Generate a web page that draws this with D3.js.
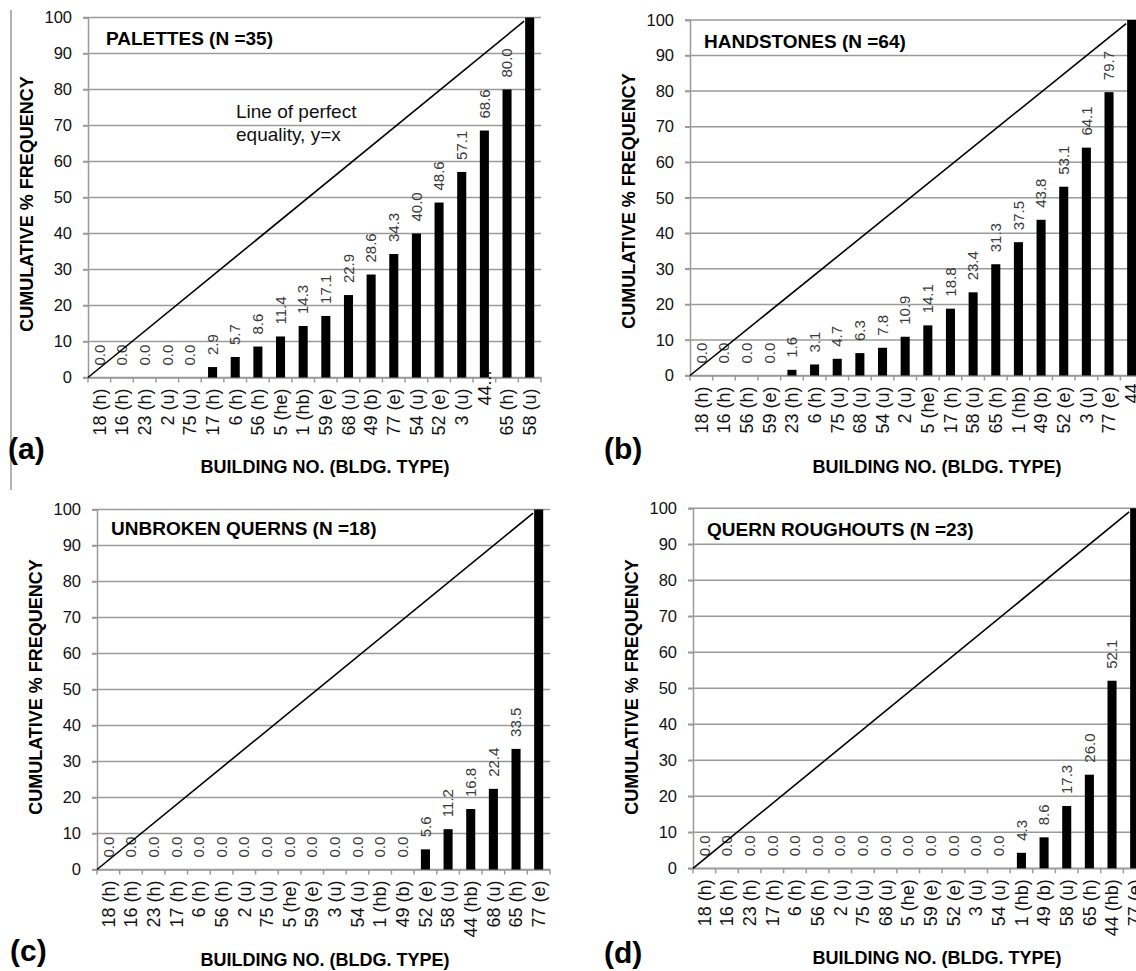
<!DOCTYPE html>
<html>
<head>
<meta charset="utf-8">
<script src="https://cdn.jsdelivr.net/npm/d3@7"></script>
<style>
  body { margin: 0; background: #fff; }
  svg { display: block; font-family: "Liberation Sans", Arial, sans-serif; }
</style>
</head>
<body>
<svg id="chart" width="1136" height="971"></svg>
<script>
// building order + cumulative % frequency, one pair per panel
const catsA = ["18 (h)", "16 (h)", "23 (h)", "2 (u)", "75 (u)", "17 (h)", "6 (h)", "56 (h)", "5 (he)", "1 (hb)",
    "59 (e)", "68 (u)", "49 (b)", "77 (e)", "54 (u)", "52 (e)", "3 (u)", "44...", "65 (h)", "58 (u)"];
const valsA = [0, 0, 0, 0, 0, 2.9, 5.7, 8.6, 11.4, 14.3, 17.1, 22.9, 28.6, 34.3, 40.0, 48.6, 57.1, 68.6, 80.0, 100];

const catsB = ["18 (h)", "16 (h)", "56 (h)", "59 (e)", "23 (h)", "6 (h)", "75 (u)", "68 (u)", "54 (u)", "2 (u)",
    "5 (he)", "17 (h)", "58 (u)", "65 (h)", "1 (hb)", "49 (b)", "52 (e)", "3 (u)", "77 (e)", "44..."];
const valsB = [0, 0, 0, 0, 1.6, 3.1, 4.7, 6.3, 7.8, 10.9, 14.1, 18.8, 23.4, 31.3, 37.5, 43.8, 53.1, 64.1, 79.7, 100];

const catsC = ["18 (h)", "16 (h)", "23 (h)", "17 (h)", "6 (h)", "56 (h)", "2 (u)", "75 (u)", "5 (he)", "59 (e)",
    "3 (u)", "54 (u)", "1 (hb)", "49 (b)", "52 (e)", "58 (u)", "44 (hb)", "68 (u)", "65 (h)", "77 (e)"];
const valsC = [0, 0, 0, 0, 0, 0, 0, 0, 0, 0, 0, 0, 0, 0, 5.6, 11.2, 16.8, 22.4, 33.5, 100];

const catsD = ["18 (h)", "16 (h)", "23 (h)", "17 (h)", "6 (h)", "56 (h)", "2 (u)", "75 (u)", "68 (u)", "5 (he)",
    "59 (e)", "52 (e)", "3 (u)", "54 (u)", "1 (hb)", "49 (b)", "58 (u)", "65 (h)", "44 (hb)", "77 (e)"];
const valsD = [0, 0, 0, 0, 0, 0, 0, 0, 0, 0, 0, 0, 0, 0, 4.3, 8.6, 17.3, 26.0, 52.1, 100];

const titles = ["PALETTES (N =35)", "HANDSTONES (N =64)", "UNBROKEN QUERNS (N =18)", "QUERN ROUGHOUTS (N =23)"];
const letters = ["(a)", "(b)", "(c)", "(d)"];
const yTicks = [0, 10, 20, 30, 40, 50, 60, 70, 80, 90, 100];

// layout of each panel (plot box, title, labels)
const panels = [
    { cats: catsA, vals: valsA, left: 88, top: 17.5, bottom: 377.5, tx: 106, ty: 45, yc: 204, xt: 325, xb: 473, lx: 8, lb: 459 },
    { cats: catsB, vals: valsB, left: 690, top: 20, bottom: 375.5, tx: 704, ty: 48, yc: 201, xt: 937, xb: 473, lx: 604, lb: 459 },
    { cats: catsC, vals: valsC, left: 97, top: 509.5, bottom: 869.5, tx: 111, ty: 535, yc: 687, xt: 325, xb: 966, lx: 10, lb: 961 },
    { cats: catsD, vals: valsD, left: 693, top: 508.3, bottom: 868.3, tx: 707, ty: 536, yc: 687, xt: 937, xb: 964, lx: 604, lb: 963 }
];
const plotW = 453;

const svg = d3.select("#chart");

// stray border line from the source figure
svg.append("line").attr("x1", 11).attr("x2", 11).attr("y1", 10).attr("y2", 490)
    .attr("stroke", "#666").attr("stroke-width", 1);

panels.forEach((p, i) => {
    const g = svg.append("g");
    const right = p.left + plotW;

    const x = d3.scaleBand().domain(p.cats).range([p.left, right]).paddingInner(0.6).paddingOuter(0.3);
    const y = d3.scaleLinear().domain([0, 100]).range([p.bottom, p.top]);
    const step = x.step();
    const gap = (step - x.bandwidth()) / 2;

    // gridlines
    g.selectAll(".grid").data(yTicks).enter().append("line")
        .attr("x1", p.left - 5).attr("x2", right)
        .attr("y1", d => y(d)).attr("y2", d => y(d))
        .attr("stroke", "#9a9a9a").attr("stroke-width", 1.5);

    // y axis
    const yAxis = g.append("g").attr("transform", `translate(${p.left},0)`)
        .call(d3.axisLeft(y).tickValues(yTicks).tickSize(5).tickPadding(11));
    yAxis.select(".domain").attr("stroke", "#9a9a9a").attr("stroke-width", 1.5);
    yAxis.selectAll(".tick line").attr("stroke", "#9a9a9a").attr("stroke-width", 1.5);
    yAxis.selectAll("text").attr("font-size", 16.5).attr("fill", "#111").attr("font-family", null);

    // x axis: ticks sit on the band boundaries
    const xAxis = g.append("g").attr("transform", `translate(0,${p.bottom})`)
        .call(d3.axisBottom(x).tickSize(0).tickSizeOuter(0));
    xAxis.select(".domain").attr("stroke", "#9a9a9a").attr("stroke-width", 1.5);
    xAxis.selectAll("text")
        .attr("font-size", 18).attr("fill", "#111").attr("font-family", null)
        .attr("text-anchor", "end")
        .attr("transform", "rotate(-90)")
        .attr("x", d => d.endsWith("...") ? 7 : -11)
        .attr("y", 0).attr("dy", "0.35em");
    const bounds = p.cats.map(c => x(c) - gap).concat([right]);
    g.selectAll(".xtick").data(bounds).enter().append("line")
        .attr("x1", d => d).attr("x2", d => d)
        .attr("y1", p.bottom).attr("y2", p.bottom + 5)
        .attr("stroke", "#9a9a9a").attr("stroke-width", 1.5);

    // bars
    g.selectAll(".bar").data(p.cats).enter().append("rect")
        .attr("x", d => x(d))
        .attr("width", x.bandwidth())
        .attr("y", (d, j) => y(p.vals[j]))
        .attr("height", (d, j) => p.bottom - y(p.vals[j]))
        .attr("fill", "#000");

    // value labels (the 100 bar's label falls outside the plot)
    g.selectAll(".val").data(p.cats.map((c, j) => ({ c, v: p.vals[j] })).filter(d => d.v < 100))
        .enter().append("text")
        .attr("transform", d => `translate(${x(d.c) + x.bandwidth() / 2},${y(d.v) - 12}) rotate(-90)`)
        .attr("dy", "0.35em")
        .attr("font-size", 15).attr("fill", "#3a3a3a")
        .text(d => d.v.toFixed(1));

    // line of perfect equality
    const n = p.cats.length;
    g.append("line")
        .attr("x1", p.left).attr("y1", y(0))
        .attr("x2", x(p.cats[n - 1]) - 1).attr("y2", y(99))
        .attr("stroke", "#000").attr("stroke-width", 1.6);

    // panel title
    g.append("text").attr("x", p.tx).attr("y", p.ty)
        .attr("font-size", 19).attr("font-weight", "bold").text(titles[i]);

    // axis titles
    g.append("text")
        .attr("transform", `translate(${p.left - 61},${p.yc}) rotate(-90)`)
        .attr("dy", "0.35em").attr("text-anchor", "middle")
        .attr("font-size", 18).attr("font-weight", "bold")
        .text("CUMULATIVE % FREQUENCY");
    g.append("text").attr("x", p.xt).attr("y", p.xb).attr("text-anchor", "middle")
        .attr("font-size", 18).attr("font-weight", "bold")
        .text("BUILDING NO. (BLDG. TYPE)");

    // panel letter
    g.append("text").attr("x", p.lx).attr("y", p.lb)
        .attr("font-size", 30).attr("font-weight", "bold").text(letters[i]);
});

// annotation in panel (a)
const note = svg.append("text").attr("font-size", 19).attr("fill", "#111");
note.append("tspan").attr("x", 236).attr("y", 118).text("Line of perfect");
note.append("tspan").attr("x", 236).attr("y", 141).text("equality, y=x");
</script>
</body>
</html>
